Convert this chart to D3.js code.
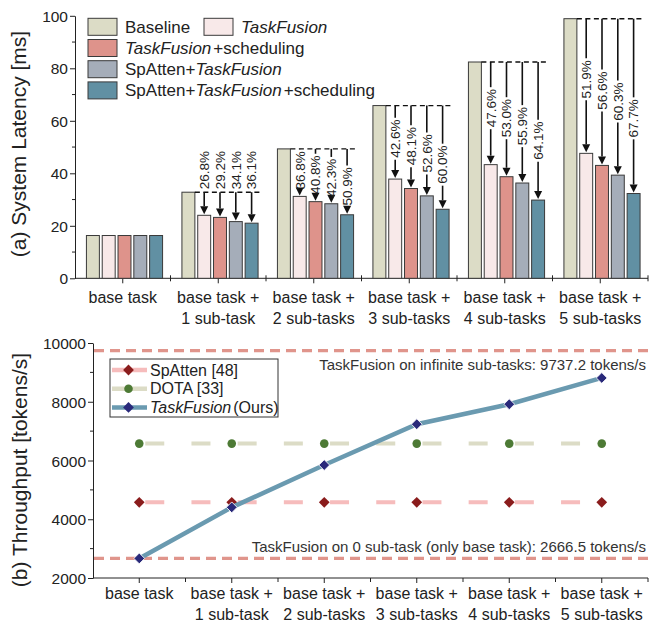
<!DOCTYPE html>
<html>
<head>
<meta charset="utf-8">
<script src="https://cdn.jsdelivr.net/npm/d3@7"></script>
<style>
  body { margin: 0; background: #fff; }
  svg { display: block; font-family: "Liberation Sans", Arial, sans-serif; }
  .axis path, .axis line { stroke: #222; }
  .axis text { fill: #222; }
</style>
</head>
<body>
<svg id="chart" width="655" height="624"></svg>
<script>
// categories shared by both panels
var categories = ["base task", "base task +|1 sub-task", "base task +|2 sub-tasks",
                  "base task +|3 sub-tasks", "base task +|4 sub-tasks", "base task +|5 sub-tasks"];

// (a) system latency [ms]
var latencySeries = ["Baseline", "TaskFusion", "TaskFusion+scheduling",
                     "SpAtten+TaskFusion", "SpAtten+TaskFusion+scheduling"];
var baselineMs     = [16.3, 32.8, 49.3, 65.8, 82.4, 98.9];
var taskFusionMs   = [16.3, 24.0, 31.2, 37.8, 43.3, 47.6];
var tfSchedMs      = [16.3, 23.2, 29.2, 34.2, 38.7, 43.0];
var spTfMs         = [16.3, 21.6, 28.4, 31.4, 36.3, 39.3];
var spTfSchedMs    = [16.3, 21.0, 24.2, 26.3, 29.8, 32.3];
var reductionLabels = [
    null,
    ["26.8%", "29.2%", "34.1%", "36.1%"],
    ["36.8%", "40.8%", "42.3%", "50.9%"],
    ["42.6%", "48.1%", "52.6%", "60.0%"],
    ["47.6%", "53.0%", "55.9%", "64.1%"],
    ["51.9%", "56.6%", "60.3%", "67.7%"]
];
var latencyTicks = [0, 20, 40, 60, 80, 100];

// (b) throughput [tokens/s]
var spattenTput    = [4575, 4575, 4575, 4575, 4575, 4575];
var dotaTput       = [6575, 6575, 6575, 6575, 6575, 6575];
var taskFusionTput = [2666.5, 4405, 5845, 7235, 7915, 8810];
var infiniteTput = 9737.2;
var zeroTput = 2666.5;
var tputTicks = [2000, 4000, 6000, 8000, 10000];

var barColors = ["#dcdcc6", "#f8e9e9", "#de938b", "#a5adb9", "#6190a3"];
var svg = d3.select("#chart");
var FONT = 15.5;

function catLabels(axisG, y0){
    axisG.selectAll(".tick").filter(function(d){ return categories.indexOf(d) >= 0; })
        .append("text")
        .attr("fill", "#222")
        .attr("text-anchor", "middle")
        .style("font-size", "16px")
        .each(function(d){
            var lines = d.split("|");
            var t = d3.select(this);
            lines.forEach(function(l, i){
                t.append("tspan").attr("x", 0).attr("y", y0 + i * 20.5).text(l);
            });
        });
}

function richText(t, parts){
    parts.forEach(function(p, i){
        var ts = t.append("tspan").style("font-style", p[1] ? "italic" : "normal").text(p[0]);
        if(i > 0 && parts[i - 1][1]){ ts.attr("dx", 2); }
    });
}

/* ---------------- (a) latency bars ---------------- */
var mA = {left: 75, right: 648, top: 15.8, bottom: 278.3};
var x0 = d3.scaleBand().domain(categories).range([mA.left, mA.right]);
var x1 = d3.scaleBand().domain(latencySeries).range([10, 89]).paddingInner(0.18).paddingOuter(0.09);
var yA = d3.scaleLinear().domain([0, 100]).range([mA.bottom, mA.top]);
var seriesData = [baselineMs, taskFusionMs, tfSchedMs, spTfMs, spTfSchedMs];

var gA = svg.append("g");

// y axis
var yAxA = gA.append("g").attr("class", "axis")
    .attr("transform", "translate(" + mA.left + ",0)")
    .call(d3.axisLeft(yA).tickValues(latencyTicks).tickSize(5).tickSizeOuter(0));
yAxA.selectAll("text").style("font-size", FONT + "px").attr("x", -7).attr("dy", "0.36em");
yAxA.append("g").selectAll("line").data([10, 30, 50, 70, 90]).enter().append("line")
    .attr("x1", -3).attr("x2", 0).attr("y1", yA).attr("y2", yA).attr("stroke", "#222");

// x axis: centre ticks + boundary ticks
var xAxA = gA.append("g").attr("class", "axis")
    .attr("transform", "translate(0," + mA.bottom + ")");
xAxA.append("line").attr("x1", mA.left).attr("x2", mA.right).attr("stroke", "#222");
var tickA = xAxA.selectAll(".tick").data(categories).enter().append("g").attr("class", "tick")
    .attr("transform", function(d){ return "translate(" + (x0(d) + x0.bandwidth() / 2) + ",0)"; });
tickA.append("line").attr("y2", 5).attr("stroke", "#222");
xAxA.selectAll(".btick").data(categories).enter().append("line")
    .attr("x1", function(d){ return x0(d) + x0.bandwidth(); })
    .attr("x2", function(d){ return x0(d) + x0.bandwidth(); })
    .attr("y1", -3).attr("y2", 3).attr("stroke", "#222");
catLabels(xAxA, 25);

// bars
var groups = gA.selectAll(".grp").data(categories).enter().append("g")
    .attr("transform", function(d){ return "translate(" + x0(d) + ",0)"; });
groups.selectAll("rect").data(function(d, i){
        return latencySeries.map(function(s, k){ return {s: s, k: k, v: seriesData[k][i]}; });
    }).enter().append("rect")
    .attr("x", function(d){ return x1(d.s); })
    .attr("width", x1.bandwidth())
    .attr("y", function(d){ return yA(d.v); })
    .attr("height", function(d){ return mA.bottom - yA(d.v); })
    .attr("fill", function(d){ return barColors[d.k]; })
    .attr("stroke", "#3a3a3a").attr("stroke-width", 1);

// reduction annotations
var ann = gA.append("g");
categories.forEach(function(c, i){
    if(!reductionLabels[i]){ return; }
    var gx = x0(c);
    var dashY = yA(baselineMs[i]);
    var lastS = latencySeries[4];
    ann.append("line")
        .attr("x1", gx + x1(latencySeries[0]) + x1.bandwidth())
        .attr("x2", gx + x1(lastS) + x1.bandwidth() + 4)
        .attr("y1", dashY).attr("y2", dashY)
        .attr("stroke", "#111").attr("stroke-width", 1.4).attr("stroke-dasharray", "5,3.5");
    reductionLabels[i].forEach(function(lbl, j){
        var s = latencySeries[j + 1];
        var cx = gx + x1(s) + x1.bandwidth() / 2;
        var barTop = yA(seriesData[j + 1][i]);
        var gap = barTop - dashY;
        var half = 19;
        var tc, above = false;
        if(gap < 2 * half + 6){
            tc = dashY - half - 3;
            above = true;
        } else {
            tc = dashY + gap * (0.45 + 0.04 * j);
            tc = Math.max(tc, dashY + half + 2);
            tc = Math.min(tc, barTop - half - 5);
        }
        var tipY = barTop - 1;
        var headTop = tipY - 8;
        // line segments
        if(above){
            ann.append("line").attr("x1", cx).attr("x2", cx).attr("y1", dashY).attr("y2", headTop)
                .attr("stroke", "#111").attr("stroke-width", 1.6);
        } else {
            if(tc - half - 2 > dashY){
                ann.append("line").attr("x1", cx).attr("x2", cx).attr("y1", dashY).attr("y2", tc - half - 2)
                    .attr("stroke", "#111").attr("stroke-width", 1.6);
            }
            if(headTop > tc + half + 2){
                ann.append("line").attr("x1", cx).attr("x2", cx).attr("y1", tc + half + 2).attr("y2", headTop)
                    .attr("stroke", "#111").attr("stroke-width", 1.6);
            }
        }
        ann.append("path")
            .attr("d", "M" + (cx - 4) + "," + headTop + "L" + (cx + 4) + "," + headTop + "L" + cx + "," + tipY + "Z")
            .attr("fill", "#111");
        ann.append("text")
            .attr("transform", "translate(" + (cx + 4.8) + "," + tc + ") rotate(-90)")
            .attr("text-anchor", "middle")
            .style("font-size", "13.5px").attr("fill", "#222")
            .text(lbl);
    });
});

// y title
gA.append("text")
    .attr("transform", "translate(26," + 144 + ") rotate(-90)")
    .attr("text-anchor", "middle").style("font-size", "21px").attr("fill", "#222")
    .text("(a) System Latency [ms]");

// legend (a)
var legA = gA.append("g");
var legItems = [
    {k: 0, x: 88, row: 0, parts: [["Baseline", false]]},
    {k: 1, x: 204, row: 0, parts: [["TaskFusion", true]]},
    {k: 2, x: 88, row: 1, parts: [["TaskFusion", true], ["+scheduling", false]]},
    {k: 3, x: 88, row: 2, parts: [["SpAtten+", false], ["TaskFusion", true]]},
    {k: 4, x: 88, row: 3, parts: [["SpAtten+", false], ["TaskFusion", true], ["+scheduling", false]]}
];
legItems.forEach(function(it){
    var yy = 18.3 + it.row * 21.2;
    legA.append("rect").attr("x", it.x).attr("y", yy).attr("width", 29).attr("height", 17)
        .attr("fill", barColors[it.k]).attr("stroke", "#3a3a3a").attr("stroke-width", 1);
    var t = legA.append("text").attr("x", it.x + 37).attr("y", yy + 14.5)
        .style("font-size", "17px").attr("fill", "#222");
    richText(t, it.parts);
});

/* ---------------- (b) throughput lines ---------------- */
var mB = {left: 93, right: 648, top: 343, bottom: 578};
var xb = d3.scaleBand().domain(categories).range([mB.left, mB.right]);
var yb = d3.scaleLinear().domain([2000, 10000]).range([mB.bottom, mB.top]);
var cx = function(d){ return xb(d) + xb.bandwidth() / 2; };
var gB = svg.append("g");

var yAxB = gB.append("g").attr("class", "axis")
    .attr("transform", "translate(" + mB.left + ",0)")
    .call(d3.axisLeft(yb).tickValues(tputTicks).tickFormat(d3.format("d")).tickSize(5).tickSizeOuter(0));
yAxB.selectAll("text").style("font-size", FONT + "px").attr("x", -7).attr("dy", "0.36em");
yAxB.append("g").selectAll("line").data([3000, 5000, 7000, 9000]).enter().append("line")
    .attr("x1", -3).attr("x2", 0).attr("y1", yb).attr("y2", yb).attr("stroke", "#222");

var xAxB = gB.append("g").attr("class", "axis")
    .attr("transform", "translate(0," + mB.bottom + ")");
xAxB.append("line").attr("x1", mB.left).attr("x2", mB.right).attr("stroke", "#222");
var tickB = xAxB.selectAll(".tick").data(categories).enter().append("g").attr("class", "tick")
    .attr("transform", function(d){ return "translate(" + cx(d) + ",0)"; });
tickB.append("line").attr("y2", 5).attr("stroke", "#222");
xAxB.selectAll(".btick").data(categories).enter().append("line")
    .attr("x1", function(d){ return xb(d) + xb.bandwidth(); })
    .attr("x2", function(d){ return xb(d) + xb.bandwidth(); })
    .attr("y1", 0).attr("y2", 4).attr("stroke", "#222");
catLabels(xAxB, 21);

// reference lines
[infiniteTput, zeroTput].forEach(function(v){
    gB.append("line").attr("x1", mB.left + 1).attr("x2", mB.right)
        .attr("y1", yb(v)).attr("y2", yb(v))
        .attr("stroke", "#e0958c").attr("stroke-width", 3.2).attr("stroke-dasharray", "10,6");
});
gB.append("text").attr("x", 646).attr("y", yb(infiniteTput) + 19)
    .attr("text-anchor", "end").style("font-size", "15px").attr("fill", "#333")
    .text("TaskFusion on infinite sub-tasks: " + infiniteTput + " tokens/s");
gB.append("text").attr("x", 646).attr("y", yb(zeroTput) - 6)
    .attr("text-anchor", "end").style("font-size", "15px").attr("fill", "#333")
    .text("TaskFusion on 0 sub-task (only base task): " + zeroTput + " tokens/s");

var line = d3.line().x(function(d, i){ return cx(categories[i]); }).y(function(d){ return yb(d); });
var diamond = d3.symbol().type(d3.symbolSquare).size(58);

function dashedSeries(vals, lineColor, markerColor, circle){
    gB.append("path").datum(vals).attr("d", line)
        .attr("fill", "none").attr("stroke", lineColor).attr("stroke-width", 4)
        .attr("stroke-dasharray", "19,27.2").attr("stroke-dashoffset", -6);
    var m = gB.append("g").selectAll("g").data(vals).enter().append("g")
        .attr("transform", function(d, i){ return "translate(" + cx(categories[i]) + "," + yb(d) + ")"; });
    if(circle){
        m.append("circle").attr("r", 4.3).attr("fill", markerColor);
    } else {
        m.append("path").attr("d", diamond).attr("transform", "rotate(45)").attr("fill", markerColor);
    }
}
dashedSeries(spattenTput, "#f6bcbc", "#8a1c1c", false);
dashedSeries(dotaTput, "#dcdcc6", "#4d7a35", true);

gB.append("path").datum(taskFusionTput).attr("d", line)
    .attr("fill", "none").attr("stroke", "#6a9ab0").attr("stroke-width", 4.5);
gB.append("g").selectAll("path").data(taskFusionTput).enter().append("path")
    .attr("d", diamond)
    .attr("transform", function(d, i){ return "translate(" + cx(categories[i]) + "," + yb(d) + ") rotate(45)"; })
    .attr("fill", "#29297a").attr("stroke", "#fff").attr("stroke-width", 0.8);

// y title
gB.append("text")
    .attr("transform", "translate(27," + 470 + ") rotate(-90)")
    .attr("text-anchor", "middle").style("font-size", "21px").attr("fill", "#222")
    .text("(b) Throughput [tokens/s]");

// legend (b)
var legB = gB.append("g").attr("transform", "translate(110,359)");
legB.append("rect").attr("width", 168).attr("height", 58)
    .attr("fill", "#fff").attr("stroke", "#333").attr("stroke-width", 1);
var legBItems = [
    {line: "#f6bcbc", marker: "#8a1c1c", circle: false, parts: [["SpAtten [48]", false]]},
    {line: "#dcdcc6", marker: "#4d7a35", circle: true, parts: [["DOTA [33]", false]]},
    {line: "#6a9ab0", marker: "#29297a", circle: false, parts: [["TaskFusion", true], ["(Ours)", false]]}
];
legBItems.forEach(function(it, i){
    var yy = 11 + i * 18.7;
    legB.append("line").attr("x1", 2).attr("x2", 37).attr("y1", yy).attr("y2", yy)
        .attr("stroke", it.line).attr("stroke-width", 4.5);
    if(it.circle){
        legB.append("circle").attr("cx", 18.5).attr("cy", yy).attr("r", 4.3).attr("fill", it.marker);
    } else {
        legB.append("path").attr("d", diamond)
            .attr("transform", "translate(18.5," + yy + ") rotate(45)").attr("fill", it.marker);
    }
    var t = legB.append("text").attr("x", 40).attr("y", yy + 5.5)
        .style("font-size", "16px").attr("fill", "#222");
    richText(t, it.parts);
});
</script>
</body>
</html>
